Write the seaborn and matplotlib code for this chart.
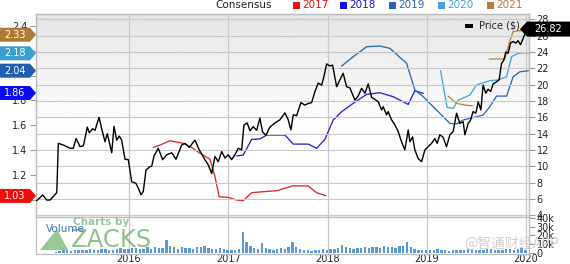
import numpy as np
import pandas as pd
import matplotlib
matplotlib.use("Agg")
import matplotlib.pyplot as plt
import matplotlib.transforms as mtrans
from matplotlib.patches import Polygon, Rectangle
import seaborn as sns

# ---------------- data ----------------
price_t = [2015.070, 2015.131, 2015.171, 2015.204, 2015.272, 2015.288, 2015.338, 2015.406, 2015.439, 2015.466,
           2015.507, 2015.540, 2015.580, 2015.600, 2015.634, 2015.658, 2015.698, 2015.725, 2015.758, 2015.781,
           2015.826, 2015.849, 2015.876, 2015.902, 2015.926, 2015.960, 2015.993, 2016.027, 2016.070, 2016.094,
           2016.121, 2016.144, 2016.171, 2016.204, 2016.229, 2016.252, 2016.295, 2016.339, 2016.380, 2016.430,
           2016.473, 2016.531, 2016.564, 2016.607, 2016.665, 2016.708, 2016.765, 2016.799, 2016.833, 2016.866,
           2016.899, 2016.934, 2016.967, 2017.000, 2017.034, 2017.067, 2017.101, 2017.135, 2017.158, 2017.191,
           2017.219, 2017.252, 2017.286, 2017.319, 2017.346, 2017.380, 2017.420, 2017.470, 2017.521, 2017.571,
           2017.604, 2017.631, 2017.655, 2017.689, 2017.732, 2017.772, 2017.806, 2017.840, 2017.873, 2017.906,
           2017.941, 2017.964, 2017.991, 2018.024, 2018.051, 2018.092, 2018.125, 2018.158, 2018.192, 2018.226,
           2018.276, 2018.309, 2018.343, 2018.377, 2018.410, 2018.444, 2018.477, 2018.511, 2018.545, 2018.561,
           2018.595, 2018.611, 2018.645, 2018.679, 2018.712, 2018.746, 2018.779, 2018.813, 2018.830, 2018.857,
           2018.880, 2018.913, 2018.948, 2018.981, 2019.014, 2019.048, 2019.082, 2019.105, 2019.132, 2019.165,
           2019.199, 2019.233, 2019.266, 2019.300, 2019.333, 2019.367, 2019.384, 2019.417, 2019.441, 2019.467,
           2019.495, 2019.518, 2019.545, 2019.568, 2019.595, 2019.618, 2019.643, 2019.669, 2019.703, 2019.729,
           2019.753, 2019.776, 2019.796, 2019.820, 2019.844, 2019.870, 2019.897, 2019.920, 2019.944, 2019.965,
           2019.988, 2020.011, 2020.025]
price_v = [5.77, 6.47, 5.85, 5.85, 6.75, 12.8, 12.6, 12.2, 12.2, 13.4,
           12.4, 12.5, 14.8, 14.1, 14.6, 14.4, 16.0, 14.6, 13.0, 14.0,
           11.65, 14.9, 13.2, 13.7, 13.2, 10.85, 10.8, 8.1, 7.9, 7.3,
           6.5, 6.9, 9.5, 9.9, 10.0, 11.25, 12.2, 10.8, 11.4, 11.65,
           10.85, 12.6, 12.8, 12.3, 13.2, 12.0, 10.8, 10.15, 9.1, 11.2,
           10.55, 11.8, 11.0, 11.4, 10.8, 11.4, 12.2, 12.0, 15.05, 15.3,
           14.35, 14.85, 14.4, 15.9, 14.2, 13.8, 14.8, 15.3, 15.7, 16.55,
           15.7, 14.45, 16.3, 16.2, 17.8, 17.5, 17.7, 17.8, 19.15, 20.2,
           19.95, 21.0, 22.55, 22.3, 22.4, 19.75, 20.6, 21.4, 19.75, 19.6,
           18.1, 18.6, 19.55, 18.95, 20.1, 18.45, 18.2, 17.9, 16.9, 17.3,
           16.3, 16.7, 15.7, 15.05, 14.25, 13.0, 12.0, 14.45, 13.0, 13.6,
           12.0, 10.95, 10.55, 12.0, 12.4, 12.8, 13.4, 12.8, 13.85, 13.55,
           12.4, 13.85, 14.25, 16.5, 15.25, 15.45, 13.85, 15.25, 15.65, 16.7,
           16.5, 17.9, 16.9, 19.95, 18.95, 19.45, 19.15, 20.1, 20.35, 20.6,
           22.6, 23.0, 24.0, 23.85, 25.1, 25.3, 25.1, 25.4, 24.9, 25.5,
           26.2, 26.6, 26.82]

eps17_t = [2016.245, 2016.312, 2016.413, 2016.547, 2016.614, 2016.708, 2016.816, 2016.866, 2016.909, 2017.000,
           2017.085, 2017.151, 2017.236, 2017.352, 2017.487, 2017.588, 2017.655, 2017.806, 2017.890, 2017.984]
eps17_v = [1.422, 1.44, 1.475, 1.454, 1.43, 1.378, 1.325, 1.185, 1.023, 1.018,
           0.997, 0.991, 1.056, 1.064, 1.072, 1.096, 1.112, 1.11, 1.056, 1.032]

eps18_t = [2017.085, 2017.151, 2017.236, 2017.319, 2017.387, 2017.571, 2017.655, 2017.806, 2017.890, 2017.974,
           2018.057, 2018.142, 2018.259, 2018.394, 2018.528, 2018.662, 2018.813, 2018.880, 2018.964]
eps18_v = [1.352, 1.36, 1.486, 1.489, 1.521, 1.521, 1.448, 1.448, 1.414, 1.486,
           1.642, 1.709, 1.777, 1.849, 1.862, 1.83, 1.768, 1.878, 1.857]

eps19_t = [2018.142, 2018.259, 2018.394, 2018.528, 2018.628, 2018.797, 2018.880, 2018.964, 2019.064, 2019.233,
           2019.300, 2019.367, 2019.434, 2019.501, 2019.568, 2019.628, 2019.703, 2019.804, 2019.870, 2019.938,
           2020.005, 2020.025]
eps19_v = [2.077, 2.153, 2.233, 2.239, 2.22, 2.099, 1.884, 1.83, 1.75, 1.615,
           1.61, 1.642, 1.656, 1.669, 1.682, 1.741, 1.835, 1.835, 1.991, 2.031,
           2.037, 2.04]

eps20_t = [2019.139, 2019.205, 2019.266, 2019.316, 2019.384, 2019.434, 2019.501, 2019.568, 2019.635, 2019.719,
           2019.804, 2019.854, 2019.920, 2019.988, 2020.025]
eps20_v = [2.04, 1.744, 1.736, 1.803, 1.825, 1.844, 1.924, 1.943, 1.959, 1.965,
           1.991, 2.152, 2.18, 2.185, 2.18]

eps21a_t = [2019.215, 2019.300, 2019.384, 2019.461]
eps21a_v = [1.835, 1.777, 1.763, 1.757]
eps21b_t = [2019.628, 2019.786, 2019.829, 2019.870, 2019.920, 2019.970, 2020.005, 2020.025]
eps21b_v = [2.134, 2.134, 2.26, 2.354, 2.362, 2.362, 2.341, 2.33]

# volume in thousands, bi-weekly from 2015.07
vol_start = 2015.07
vol_k = [0.4, 0.5, 0.4, 0.6, 0.5, 0.8,
         2.5, 3, 3.5, 2.8, 3.2, 4, 3.5, 3, 4.5, 3.8, 3.5, 4.2, 5, 4, 3.6, 4.8, 5.5, 4.5,
         5, 6, 5.5, 4.5, 5, 6.5, 5, 7, 5.5, 6, 15, 8, 6.5, 5, 7, 5.5, 6, 5, 6.5, 7, 8.5, 6, 5, 4.5, 6, 5,
         3, 4, 3, 4.5, 24, 12, 8, 6, 5, 11, 6, 5, 4, 5, 6, 5, 7, 12.5, 7, 5, 4, 3, 2.5, 3, 4, 4.5,
         4, 5, 4.5, 6, 9, 7, 6, 5, 5.5, 6, 7, 5.5, 6.5, 7, 6, 8, 6.5, 7, 6, 7.5, 8, 12, 7, 5, 4, 3.5,
         3, 4, 3.5, 5, 4, 3, 2.5, 3, 3.5, 4, 3.5, 4.5, 5, 4, 3.5, 4, 4.5, 5, 4, 3.5, 4, 5, 4.5, 4, 5, 6, 4]
vol_t = [vol_start + i / 26.0 for i in range(len(vol_k))]

years = [2016, 2017, 2018, 2019, 2020]
year_labels = ["2016", "2017", "2018", "2019", "2020"]
price_ticks = [4, 6, 8, 10, 12, 14, 16, 18, 20, 22, 24, 26, 28]
eps_ticks = [1.0, 1.2, 1.4, 1.6, 1.8, 2.0, 2.2, 2.4]
eps_tick_labels = ["", "1.2", "1.4", "1.6", "1.8", "", "", "2.4"]
vol_ticks = [0, 10, 20, 30, 40]
vol_labels = ["0", "10k", "20k", "30k", "40k"]
legend_years = ["2017", "2018", "2019", "2020", "2021"]
eps_last = [1.03, 1.86, 2.04, 2.18, 2.33]
price_last = 26.82

# ---------------- style ----------------
sns.set_style("white")
plt.rcParams['font.family'] = ['DejaVu Sans', 'Noto Sans CJK SC']

c17, c18, c19, c20, c21 = '#E0262B', '#2222D8', '#2F67B4', '#45A6D6', '#B88440'
badge_cols = ['#F20D0D', '#0A0AF0', '#1F5FB0', '#3AA0D2', '#B07A34']
grid_c = '#C9C9C9'

W_PX, H_PX = 570, 264
fig = plt.figure(figsize=(W_PX / 100, H_PX / 100), dpi=100)
L, R = 36 / W_PX, 529 / W_PX
yt, yb, yv = 14, 217, 254
ax_e = fig.add_axes([L, 1 - yb / H_PX, R - L, (yb - yt) / H_PX])
ax_p = ax_e.twinx()
ax_v = fig.add_axes([L, 1 - yv / H_PX, R - L, (yv - yb) / H_PX])

xlim = (2015.063, 2020.03)
for a in (ax_e, ax_p, ax_v):
    a.set_xlim(*xlim)
ax_e.set_ylim(0.860, 2.497)
ax_p.set_ylim(3.77, 28.67)
ax_v.set_ylim(-1.1, 41.0)

# background gradient
grad = np.linspace(0.895, 1.0, 200)
grad = np.clip(np.concatenate([grad, np.ones(160)]), 0, 1)[:, None]
ax_e.imshow(grad, extent=[xlim[0], xlim[1], 0.860, 2.497], origin='upper', aspect='auto',
            cmap='gray', vmin=0, vmax=1, zorder=0)

# grid
ax_p.set_yticks(price_ticks)
ax_p.yaxis.grid(True, color=grid_c, lw=0.8)
for a in (ax_e, ax_v):
    for yr in years:
        a.axvline(yr, color=grid_c, lw=0.9, zorder=0.5)

# EPS consensus lines
for t, v, c in [(eps17_t, eps17_v, c17), (eps18_t, eps18_v, c18), (eps19_t, eps19_v, c19),
                (eps20_t, eps20_v, c20), (eps21a_t, eps21a_v, c21), (eps21b_t, eps21b_v, c21)]:
    sns.lineplot(x=t, y=v, ax=ax_e, color=c, lw=0.95, zorder=2)

# price
sns.lineplot(x=price_t, y=price_v, ax=ax_p, color='black', lw=1.0, zorder=3)

# volume
ax_v.bar(vol_t, vol_k, width=0.024, color='#5A9AD3', align='center', zorder=2, linewidth=0)

# axes styling
for a in (ax_e, ax_p, ax_v):
    for s in a.spines.values():
        s.set_color('#BDBDBD')
        s.set_linewidth(0.9)
    a.set_xlabel('')
    a.set_ylabel('')

ax_e.set_yticks(eps_ticks)
ax_e.set_yticklabels(eps_tick_labels)
ax_e.tick_params(axis='y', left=True, right=False, labelleft=True, labelright=False,
                 length=4, width=0.8, color='#999999', labelsize=7, pad=2, labelcolor='#222222')
ax_e.set_xticks([])
ax_p.set_xticks([])
ax_p.set_yticklabels([str(v) for v in price_ticks])
ax_p.tick_params(axis='y', right=True, left=False, labelright=True, labelleft=False,
                 length=4, width=0.8, color='#999999', labelsize=7, pad=1.5, labelcolor='#222222')

ax_v.set_yticks(vol_ticks)
ax_v.set_yticklabels(vol_labels)
ax_v.yaxis.tick_right()
ax_v.tick_params(axis='y', right=True, left=False, length=4, width=0.8, color='#999999',
                 labelsize=7, pad=1.5, labelcolor='#222222')
ax_v.set_xticks(years)
ax_v.set_xticklabels(year_labels)
ax_v.tick_params(axis='x', length=0, labelsize=7, pad=0, labelcolor='#222222')

# ---------------- badges ----------------
tr_e = mtrans.blended_transform_factory(fig.transFigure, ax_e.transData)
tr_p = mtrans.blended_transform_factory(fig.transFigure, ax_p.transData)
h_e = 7.0 / 124.0
for val, col in zip(eps_last, badge_cols):
    verts = [(0, val - h_e), (30 / W_PX, val - h_e), (36 / W_PX, val), (30 / W_PX, val + h_e), (0, val + h_e)]
    fig.add_artist(Polygon(verts, closed=True, transform=tr_e, facecolor=col,
                           edgecolor='none', zorder=5, clip_on=False))
    fig.text(15 / W_PX, val, f"{val:.2f}", transform=tr_e, color='white', fontsize=7,
             ha='center', va='center', zorder=6)

h_p = 7.5 / 8.15
verts = [(520 / W_PX, price_last), (527 / W_PX, price_last + h_p), (1.0, price_last + h_p),
         (1.0, price_last - h_p), (527 / W_PX, price_last - h_p)]
fig.add_artist(Polygon(verts, closed=True, transform=tr_p, facecolor='black', edgecolor='none',
                       zorder=5, clip_on=False))
fig.text(548 / W_PX, price_last, f"{price_last:.2f}", transform=tr_p, color='white', fontsize=7,
         ha='center', va='center', zorder=6)

# ---------------- legends ----------------
def fy(ypx):
    return 1 - ypx / H_PX

fig.text(244 / W_PX, fy(5.5), "Consensus", fontsize=7.5, ha='center', va='center', color='#222222')
leg_x = [293, 340, 389, 438, 487]
leg_c = ['#F01010', '#1515E8', '#2A64B0', '#46A4D4', '#B07C38']
for x0, c, lbl in zip(leg_x, leg_c, legend_years):
    fig.add_artist(Rectangle((x0 / W_PX, fy(9)), 7 / W_PX, 7 / H_PX, transform=fig.transFigure,
                             facecolor=c, edgecolor='none'))
    fig.text((x0 + 9) / W_PX, fy(5.5), lbl, fontsize=7.5, ha='left', va='center', color=c)

fig.add_artist(Rectangle((465 / W_PX, fy(28)), 8 / W_PX, 4 / H_PX, transform=fig.transFigure,
                         facecolor='black', edgecolor='none', zorder=4))
fig.text(479 / W_PX, fy(26), "Price ($)", fontsize=7, ha='left', va='center', color='#222222', zorder=4)

# ---------------- watermark / logo ----------------
tri = Polygon([(40 / W_PX, fy(250)), (57 / W_PX, fy(229)), (68 / W_PX, fy(250))], closed=True,
              transform=fig.transFigure, facecolor='#7DBB7D', edgecolor='none', alpha=0.8, zorder=3)
fig.add_artist(tri)
fig.text(73 / W_PX, fy(222), "Charts by", fontsize=7.5, color='#8CC08C', ha='left', va='center',
         fontweight='bold', alpha=0.9, zorder=3)
fig.text(71 / W_PX, fy(240), "ZACKS", fontsize=17.5, color='#6BAA6B', ha='left', va='center',
         alpha=0.75, zorder=3)
fig.text(46 / W_PX, fy(229), "Volume", fontsize=7.5, color='#3B78B8', ha='left', va='center', zorder=4)
fig.text(512 / W_PX, fy(244), "@智通财经APP", fontsize=10, color='#C8C8C8', ha='center', va='center',
         alpha=0.85, zorder=4, family=['Noto Sans CJK SC', 'DejaVu Sans'])

fig.savefig("out.png", dpi=100)
